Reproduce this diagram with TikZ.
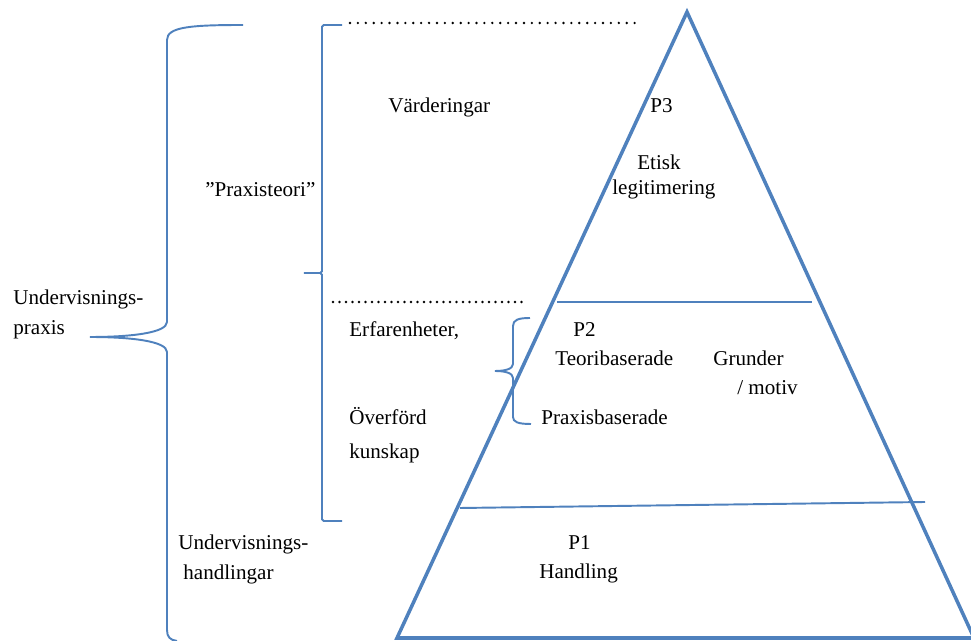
\documentclass[tikz,border=0pt]{standalone}
\usepackage{fontspec}
\setmainfont{Liberation Serif}
\usetikzlibrary{positioning}
\definecolor{cB}{HTML}{4F81BD}
\tikzset{
  tri/.style={draw=cB,line width=2pt,line join=miter},
  lvl/.style={draw=cB,line width=1.1pt},
  brc/.style={draw=cB,line width=1.1pt},
  dotline/.style={line width=1.5pt,line cap=round,dash pattern=on 0pt off #1},
  dotline/.default=4.5pt,
  lbl/.style={anchor=base west,inner sep=0pt,font=\fontsize{12}{14}\selectfont},
}

\begin{document}
\begin{tikzpicture}[x=0.02cm,y=-0.02cm]
  \useasboundingbox (0,0) rectangle (971,641);
  % pyramid with three levels
  \coordinate (apex) at (687,12);
  \coordinate (bl) at (397,638);
  \coordinate (br) at (974,638);
  \draw[tri] (bl) -- (apex) -- (br) -- cycle;
  \draw[lvl] (557,302) -- (812,302);
  \draw[lvl] (460,508) -- (925,502);

  % dotted separators
  \draw[dotline] (350,23) -- (640,23);
  \draw[dotline=3.7pt] (333,302) -- (528,302);

  % braces
  \draw[brc] (243,25) .. controls (190,25) and (167,27) .. (167,40)
    -- (167,322) .. controls (167,333) and (130,337) .. (90,337)
    .. controls (130,337) and (167,341) .. (167,352)
    -- (167,630) .. controls (167,637) and (170,640) .. (177,641);
  \draw[brc,rounded corners=1pt] (342,25) -| (322,273) -- (302,273)
    -- (322,273) |- (342,521);
  \draw[brc] (530,318) .. controls (518,318) and (513,320) .. (513,326)
    -- (513,364) .. controls (513,369) and (505,371) .. (495,371)
    .. controls (505,371) and (513,373) .. (513,378)
    -- (513,417) .. controls (513,422) and (518,424) .. (531,424);

  % labels
  \node[lbl] (und1) at (13,305) {Undervisnings-};
  \node[lbl] (prx) at (13,335) {praxis};
  \node[lbl] (pteori) at (205,197) {”Praxisteori”};
  \node[lbl] (vard) at (388,113) {Värderingar};
  \node[lbl] (p3) at (650,113) {P3};
  \node[lbl] (etisk) at (637,170) {Etisk};
  \node[lbl] (legit) at (612,195) {legitimering};
  \node[lbl] (erf) at (349,337) {Erfarenheter,};
  \node[lbl] (p2) at (573,337) {P2};
  \node[lbl] (teori) at (555,366) {Teoribaserade};
  \node[lbl] (grund) at (713,366) {Grunder};
  \node[lbl] (motiv) at (737,395) {/ motiv};
  \node[lbl] (overf) at (349,425) {Överförd};
  \node[lbl] (praxb) at (541,425) {Praxisbaserade};
  \node[lbl] (kunsk) at (349,459) {kunskap};
  \node[lbl] (und2) at (178,550) {Undervisnings-};
  \node[lbl] (handl) at (183,580) {handlingar};
  \node[lbl] (p1) at (568,550) {P1};
  \node[lbl] (hand) at (539,579) {Handling};
\end{tikzpicture}
\end{document}
